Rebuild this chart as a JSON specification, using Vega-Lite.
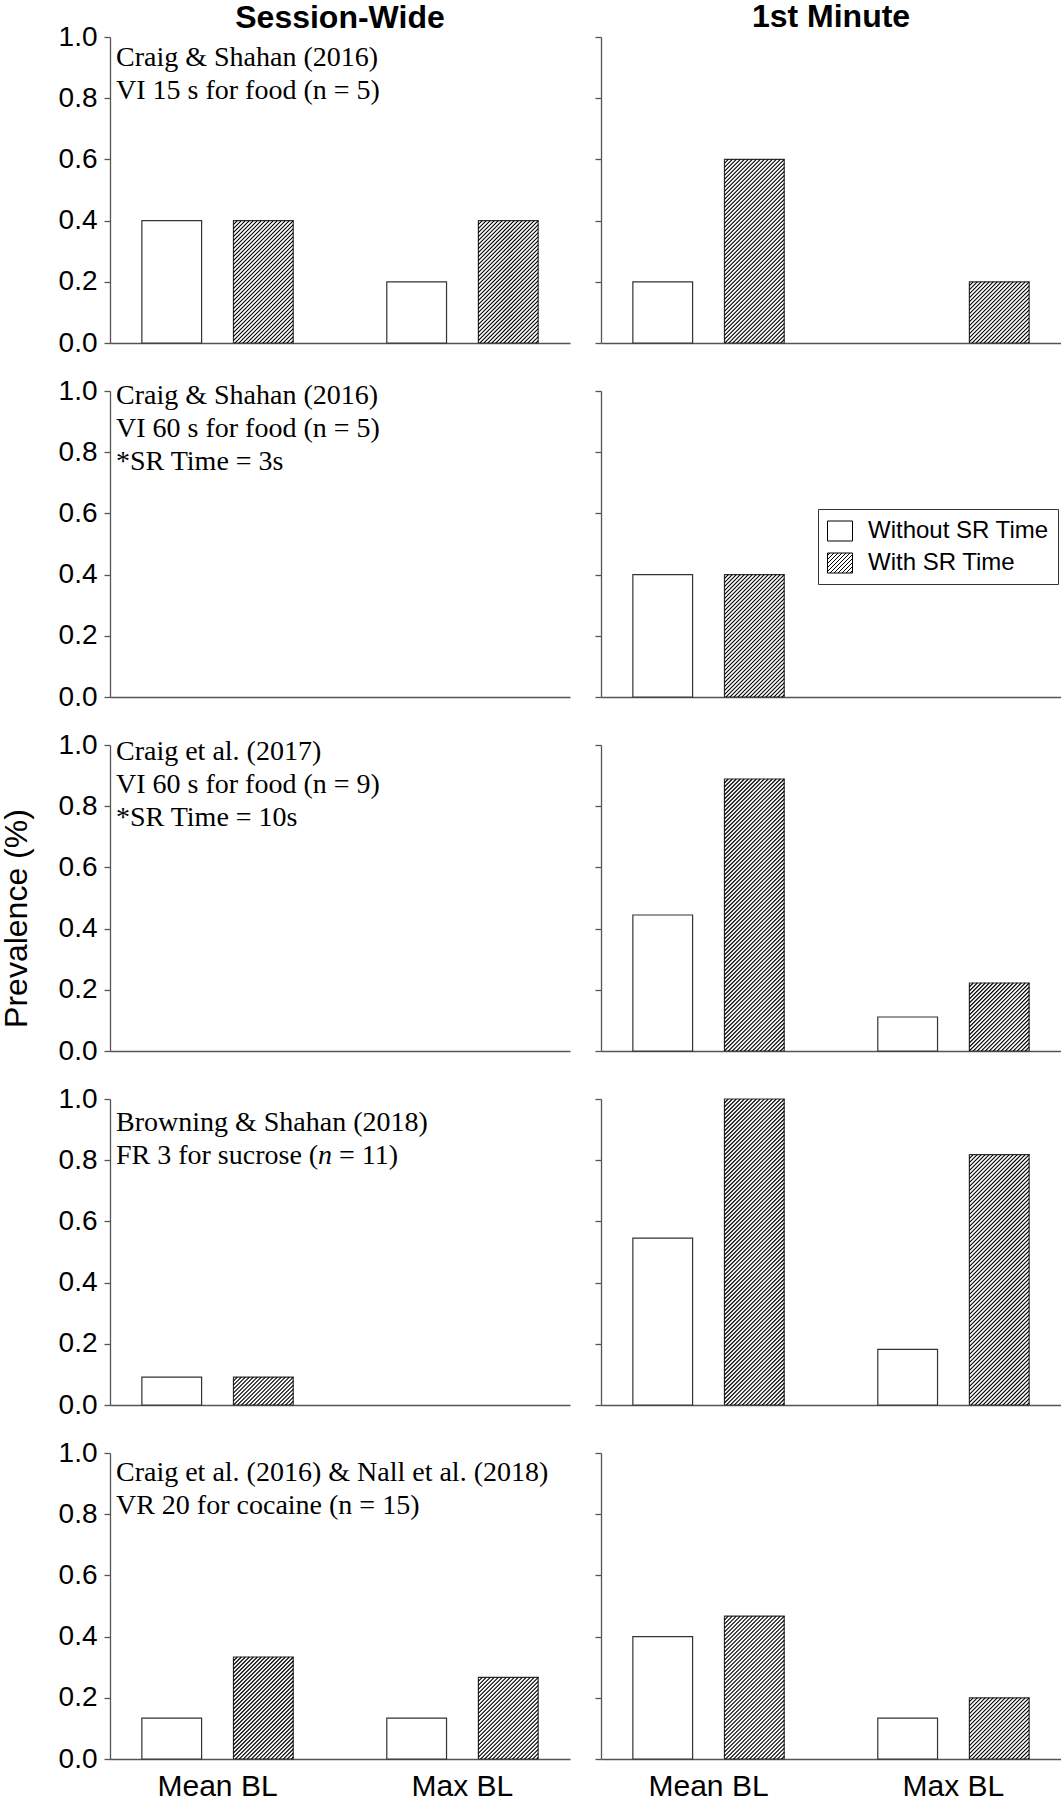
{
  "$schema": "https://vega.github.io/schema/vega-lite/v6.json",
  "padding": {"left": 0, "top": 1, "right": 0, "bottom": 0},
  "background": "white",
  "datasets": {
    "bars": [
      {"row": 1, "period": "Session-Wide", "bl": "Mean BL", "cond": "Without SR Time", "value": 0.4},
      {"row": 1, "period": "Session-Wide", "bl": "Mean BL", "cond": "With SR Time", "value": 0.4},
      {"row": 1, "period": "Session-Wide", "bl": "Max BL", "cond": "Without SR Time", "value": 0.2},
      {"row": 1, "period": "Session-Wide", "bl": "Max BL", "cond": "With SR Time", "value": 0.4},
      {"row": 1, "period": "1st Minute", "bl": "Mean BL", "cond": "Without SR Time", "value": 0.2},
      {"row": 1, "period": "1st Minute", "bl": "Mean BL", "cond": "With SR Time", "value": 0.6},
      {"row": 1, "period": "1st Minute", "bl": "Max BL", "cond": "Without SR Time", "value": 0},
      {"row": 1, "period": "1st Minute", "bl": "Max BL", "cond": "With SR Time", "value": 0.2},
      {"row": 2, "period": "Session-Wide", "bl": "Mean BL", "cond": "Without SR Time", "value": 0},
      {"row": 2, "period": "Session-Wide", "bl": "Mean BL", "cond": "With SR Time", "value": 0},
      {"row": 2, "period": "Session-Wide", "bl": "Max BL", "cond": "Without SR Time", "value": 0},
      {"row": 2, "period": "Session-Wide", "bl": "Max BL", "cond": "With SR Time", "value": 0},
      {"row": 2, "period": "1st Minute", "bl": "Mean BL", "cond": "Without SR Time", "value": 0.4},
      {"row": 2, "period": "1st Minute", "bl": "Mean BL", "cond": "With SR Time", "value": 0.4},
      {"row": 2, "period": "1st Minute", "bl": "Max BL", "cond": "Without SR Time", "value": 0},
      {"row": 2, "period": "1st Minute", "bl": "Max BL", "cond": "With SR Time", "value": 0},
      {"row": 3, "period": "Session-Wide", "bl": "Mean BL", "cond": "Without SR Time", "value": 0},
      {"row": 3, "period": "Session-Wide", "bl": "Mean BL", "cond": "With SR Time", "value": 0},
      {"row": 3, "period": "Session-Wide", "bl": "Max BL", "cond": "Without SR Time", "value": 0},
      {"row": 3, "period": "Session-Wide", "bl": "Max BL", "cond": "With SR Time", "value": 0},
      {"row": 3, "period": "1st Minute", "bl": "Mean BL", "cond": "Without SR Time", "value": 0.4444},
      {"row": 3, "period": "1st Minute", "bl": "Mean BL", "cond": "With SR Time", "value": 0.8889},
      {"row": 3, "period": "1st Minute", "bl": "Max BL", "cond": "Without SR Time", "value": 0.1111},
      {"row": 3, "period": "1st Minute", "bl": "Max BL", "cond": "With SR Time", "value": 0.2222},
      {"row": 4, "period": "Session-Wide", "bl": "Mean BL", "cond": "Without SR Time", "value": 0.0909},
      {"row": 4, "period": "Session-Wide", "bl": "Mean BL", "cond": "With SR Time", "value": 0.0909},
      {"row": 4, "period": "Session-Wide", "bl": "Max BL", "cond": "Without SR Time", "value": 0},
      {"row": 4, "period": "Session-Wide", "bl": "Max BL", "cond": "With SR Time", "value": 0},
      {"row": 4, "period": "1st Minute", "bl": "Mean BL", "cond": "Without SR Time", "value": 0.5455},
      {"row": 4, "period": "1st Minute", "bl": "Mean BL", "cond": "With SR Time", "value": 1.0},
      {"row": 4, "period": "1st Minute", "bl": "Max BL", "cond": "Without SR Time", "value": 0.1818},
      {"row": 4, "period": "1st Minute", "bl": "Max BL", "cond": "With SR Time", "value": 0.8182},
      {"row": 5, "period": "Session-Wide", "bl": "Mean BL", "cond": "Without SR Time", "value": 0.1333},
      {"row": 5, "period": "Session-Wide", "bl": "Mean BL", "cond": "With SR Time", "value": 0.3333},
      {"row": 5, "period": "Session-Wide", "bl": "Max BL", "cond": "Without SR Time", "value": 0.1333},
      {"row": 5, "period": "Session-Wide", "bl": "Max BL", "cond": "With SR Time", "value": 0.2667},
      {"row": 5, "period": "1st Minute", "bl": "Mean BL", "cond": "Without SR Time", "value": 0.4},
      {"row": 5, "period": "1st Minute", "bl": "Mean BL", "cond": "With SR Time", "value": 0.4667},
      {"row": 5, "period": "1st Minute", "bl": "Max BL", "cond": "Without SR Time", "value": 0.1333},
      {"row": 5, "period": "1st Minute", "bl": "Max BL", "cond": "With SR Time", "value": 0.2}
    ],
    "notes": [
      {"row": 1, "part": "main", "bl": "Mean BL", "text": "Craig & Shahan (2016)\nVI 15 s for food (n = 5)"},
      {"row": 2, "part": "main", "bl": "Mean BL", "text": "Craig & Shahan (2016)\nVI 60 s for food (n = 5)\n*SR Time = 3s"},
      {"row": 3, "part": "main", "bl": "Mean BL", "text": "Craig et al. (2017)\nVI 60 s for food (n = 9)\n*SR Time = 10s"},
      {"row": 4, "part": "main", "bl": "Mean BL", "text": "Browning & Shahan (2018)\nFR 3 for sucrose ("},
      {"row": 4, "part": "italic", "bl": "Mean BL", "text": "n"},
      {"row": 4, "part": "tail", "bl": "Mean BL", "text": "= 11)"},
      {"row": 5, "part": "main", "bl": "Mean BL", "text": "Craig et al. (2016) & Nall et al. (2018)\nVR 20 for cocaine (n = 15)"}
    ]
  },
  "columns": 2,
  "spacing": {"row": 48, "column": 31},
  "bounds": "flush",
  "resolve": {"scale": {"fill": "independent"}, "legend": {"fill": "independent"}},
  "concat": [
    {
      "width": 460, "height": 306,
      "title": {"text": "Session-Wide", "fontSize": 32, "fontWeight": "bold", "font": "Liberation Sans", "color": "black", "baseline": "alphabetic", "offset": -37},
      "data": {"name": "bars"},
      "encoding": {
        "x": {"field": "bl", "type": "nominal", "scale": {"domain": ["Mean BL", "Max BL"], "paddingInner": 0.1707, "paddingOuter": 0.0244}, "axis": {"labels": false, "ticks": false, "title": null}},
        "y": {"field": "value", "type": "quantitative", "scale": {"domain": [0, 1]}, "axis": {"title": null, "values": [0, 0.2, 0.4, 0.6, 0.8, 1], "format": ".1f"}}
      },
      "layer": [
        {"transform": [{"filter": "datum.row == 1 && datum.period == 'Session-Wide' && datum.value > 0"}], "mark": {"type": "bar", "fill": "white", "stroke": "#333", "strokeWidth": 1.2}, "encoding": {"xOffset": {"field": "cond", "type": "nominal", "scale": {"domain": ["Without SR Time", "With SR Time"], "paddingInner": 0.3478, "paddingOuter": 0.2826}}}},
        {"transform": [{"filter": "datum.row == 1 && datum.period == 'Session-Wide' && datum.value > 0 && datum.cond == 'With SR Time'"}], "mark": {"type": "point", "clip": true}, "encoding": {"xOffset": {"field": "cond", "type": "nominal"}}},
        {"data": {"name": "notes"}, "transform": [{"filter": "datum.row == 1"}], "mark": {"type": "text", "align": "left", "baseline": "alphabetic", "font": "Liberation Serif", "fontSize": 28, "lineHeight": 33, "lineBreak": "\n", "color": "black", "dy": 29}, "encoding": {"x": {"field": "bl", "type": "nominal", "bandPosition": 0}, "y": {"value": 0}, "text": {"field": "text", "type": "nominal"}}}
      ]
    },
    {
      "width": 460, "height": 306,
      "title": {"text": "1st Minute", "fontSize": 32, "fontWeight": "bold", "font": "Liberation Sans", "color": "black", "baseline": "alphabetic", "offset": -23},
      "data": {"name": "bars"},
      "encoding": {
        "x": {"field": "bl", "type": "nominal", "scale": {"domain": ["Mean BL", "Max BL"], "paddingInner": 0.1707, "paddingOuter": 0.0244}, "axis": {"labels": false, "ticks": false, "title": null}},
        "y": {"field": "value", "type": "quantitative", "scale": {"domain": [0, 1]}, "axis": {"title": null, "labels": false, "values": [0, 0.2, 0.4, 0.6, 0.8, 1]}}
      },
      "layer": [
        {"transform": [{"filter": "datum.row == 1 && datum.period == '1st Minute' && datum.value > 0"}], "mark": {"type": "bar", "fill": "white", "stroke": "#333", "strokeWidth": 1.2}, "encoding": {"xOffset": {"field": "cond", "type": "nominal", "scale": {"domain": ["Without SR Time", "With SR Time"], "paddingInner": 0.3478, "paddingOuter": 0.2826}}}},
        {"transform": [{"filter": "datum.row == 1 && datum.period == '1st Minute' && datum.value > 0 && datum.cond == 'With SR Time'"}], "mark": {"type": "point", "clip": true}, "encoding": {"xOffset": {"field": "cond", "type": "nominal"}}}
      ]
    },
    {
      "width": 460, "height": 306,
      "data": {"name": "bars"},
      "encoding": {
        "x": {"field": "bl", "type": "nominal", "scale": {"domain": ["Mean BL", "Max BL"], "paddingInner": 0.1707, "paddingOuter": 0.0244}, "axis": {"labels": false, "ticks": false, "title": null}},
        "y": {"field": "value", "type": "quantitative", "scale": {"domain": [0, 1]}, "axis": {"title": null, "values": [0, 0.2, 0.4, 0.6, 0.8, 1], "format": ".1f"}}
      },
      "layer": [
        {"transform": [{"filter": "datum.row == 2 && datum.period == 'Session-Wide' && datum.value > 0"}], "mark": {"type": "bar", "fill": "white", "stroke": "#333", "strokeWidth": 1.2}, "encoding": {"xOffset": {"field": "cond", "type": "nominal", "scale": {"domain": ["Without SR Time", "With SR Time"], "paddingInner": 0.3478, "paddingOuter": 0.2826}}}},
        {"data": {"name": "notes"}, "transform": [{"filter": "datum.row == 2"}], "mark": {"type": "text", "align": "left", "baseline": "alphabetic", "font": "Liberation Serif", "fontSize": 28, "lineHeight": 33, "lineBreak": "\n", "color": "black", "dy": 12.5}, "encoding": {"x": {"field": "bl", "type": "nominal", "bandPosition": 0}, "y": {"value": 0}, "text": {"field": "text", "type": "nominal"}}}
      ]
    },
    {
      "width": 460, "height": 306,
      "data": {"name": "bars"},
      "encoding": {
        "x": {"field": "bl", "type": "nominal", "scale": {"domain": ["Mean BL", "Max BL"], "paddingInner": 0.1707, "paddingOuter": 0.0244}, "axis": {"labels": false, "ticks": false, "title": null}},
        "y": {"field": "value", "type": "quantitative", "scale": {"domain": [0, 1]}, "axis": {"title": null, "labels": false, "values": [0, 0.2, 0.4, 0.6, 0.8, 1]}}
      },
      "layer": [
        {"transform": [{"filter": "datum.row == 2 && datum.period == '1st Minute' && datum.value > 0"}], "mark": {"type": "bar", "stroke": "#333", "strokeWidth": 1.2},
         "encoding": {
           "xOffset": {"field": "cond", "type": "nominal", "scale": {"domain": ["Without SR Time", "With SR Time"], "paddingInner": 0.3478, "paddingOuter": 0.2826}},
           "fill": {"field": "cond", "type": "nominal", "scale": {"domain": ["Without SR Time", "With SR Time"], "range": ["white", "white"]},
             "legend": {"title": null, "orient": "none", "legendX": 217, "legendY": 118, "direction": "vertical",
               "symbolType": "M-1,-0.8H1V0.8H-1Z", "symbolSize": 625, "symbolStrokeColor": "black", "symbolStrokeWidth": 1,
               "labelFont": "Liberation Sans", "labelFontSize": 24, "labelColor": "black", "labelOffset": 15, "labelLimit": 400, "rowPadding": 7,
               "padding": 9, "strokeColor": "#333", "fillColor": "white", "cornerRadius": 0,
               "encode": {"symbols": {"update": {
                 "shape": [{"test": "datum.value === 'With SR Time'", "value": "M-1,-0.8H1V0.8H-1ZM-1,-0.6L-0.8,-0.8M-1,-0.28L-0.48,-0.8M-1,0.04L-0.16,-0.8M-1,0.36L0.16,-0.8M-1,0.68L0.48,-0.8M-0.8,0.8L0.8,-0.8M-0.48,0.8L1,-0.68M-0.16,0.8L1,-0.36M0.16,0.8L1,-0.04M0.48,0.8L1,0.28M0.8,0.8L1,0.6"}, {"value": "M-1,-0.8H1V0.8H-1Z"}],
                 "fill": {"value": "white"}, "stroke": {"value": "black"}, "strokeWidth": {"value": 1}, "opacity": {"value": 1}}}}
             }
           }
         }
        },
        {"transform": [{"filter": "datum.row == 2 && datum.period == '1st Minute' && datum.value > 0 && datum.cond == 'With SR Time'"}], "mark": {"type": "point", "clip": true}, "encoding": {"xOffset": {"field": "cond", "type": "nominal"}}}
      ]
    },
    {
      "width": 460, "height": 306,
      "data": {"name": "bars"},
      "encoding": {
        "x": {"field": "bl", "type": "nominal", "scale": {"domain": ["Mean BL", "Max BL"], "paddingInner": 0.1707, "paddingOuter": 0.0244}, "axis": {"labels": false, "ticks": false, "title": null}},
        "y": {"field": "value", "type": "quantitative", "scale": {"domain": [0, 1]}, "axis": {"title": "Prevalence (%)", "titleY": 173, "titlePadding": 25, "values": [0, 0.2, 0.4, 0.6, 0.8, 1], "format": ".1f"}}
      },
      "layer": [
        {"transform": [{"filter": "datum.row == 3 && datum.period == 'Session-Wide' && datum.value > 0"}], "mark": {"type": "bar", "fill": "white", "stroke": "#333", "strokeWidth": 1.2}, "encoding": {"xOffset": {"field": "cond", "type": "nominal", "scale": {"domain": ["Without SR Time", "With SR Time"], "paddingInner": 0.3478, "paddingOuter": 0.2826}}}},
        {"data": {"name": "notes"}, "transform": [{"filter": "datum.row == 3"}], "mark": {"type": "text", "align": "left", "baseline": "alphabetic", "font": "Liberation Serif", "fontSize": 28, "lineHeight": 33, "lineBreak": "\n", "color": "black", "dy": 14.5}, "encoding": {"x": {"field": "bl", "type": "nominal", "bandPosition": 0}, "y": {"value": 0}, "text": {"field": "text", "type": "nominal"}}}
      ]
    },
    {
      "width": 460, "height": 306,
      "data": {"name": "bars"},
      "encoding": {
        "x": {"field": "bl", "type": "nominal", "scale": {"domain": ["Mean BL", "Max BL"], "paddingInner": 0.1707, "paddingOuter": 0.0244}, "axis": {"labels": false, "ticks": false, "title": null}},
        "y": {"field": "value", "type": "quantitative", "scale": {"domain": [0, 1]}, "axis": {"title": null, "labels": false, "values": [0, 0.2, 0.4, 0.6, 0.8, 1]}}
      },
      "layer": [
        {"transform": [{"filter": "datum.row == 3 && datum.period == '1st Minute' && datum.value > 0"}], "mark": {"type": "bar", "fill": "white", "stroke": "#333", "strokeWidth": 1.2}, "encoding": {"xOffset": {"field": "cond", "type": "nominal", "scale": {"domain": ["Without SR Time", "With SR Time"], "paddingInner": 0.3478, "paddingOuter": 0.2826}}}},
        {"transform": [{"filter": "datum.row == 3 && datum.period == '1st Minute' && datum.value > 0 && datum.cond == 'With SR Time'"}], "mark": {"type": "point", "clip": true}, "encoding": {"xOffset": {"field": "cond", "type": "nominal"}}}
      ]
    },
    {
      "width": 460, "height": 306,
      "data": {"name": "bars"},
      "encoding": {
        "x": {"field": "bl", "type": "nominal", "scale": {"domain": ["Mean BL", "Max BL"], "paddingInner": 0.1707, "paddingOuter": 0.0244}, "axis": {"labels": false, "ticks": false, "title": null}},
        "y": {"field": "value", "type": "quantitative", "scale": {"domain": [0, 1]}, "axis": {"title": null, "values": [0, 0.2, 0.4, 0.6, 0.8, 1], "format": ".1f"}}
      },
      "layer": [
        {"transform": [{"filter": "datum.row == 4 && datum.period == 'Session-Wide' && datum.value > 0"}], "mark": {"type": "bar", "fill": "white", "stroke": "#333", "strokeWidth": 1.2}, "encoding": {"xOffset": {"field": "cond", "type": "nominal", "scale": {"domain": ["Without SR Time", "With SR Time"], "paddingInner": 0.3478, "paddingOuter": 0.2826}}}},
        {"transform": [{"filter": "datum.row == 4 && datum.period == 'Session-Wide' && datum.value > 0 && datum.cond == 'With SR Time'"}], "mark": {"type": "point", "clip": true}, "encoding": {"xOffset": {"field": "cond", "type": "nominal"}}},
        {"data": {"name": "notes"}, "transform": [{"filter": "datum.row == 4 && datum.part == 'main'"}], "mark": {"type": "text", "align": "left", "baseline": "alphabetic", "font": "Liberation Serif", "fontSize": 28, "lineHeight": 33, "lineBreak": "\n", "color": "black", "dy": 32}, "encoding": {"x": {"field": "bl", "type": "nominal", "bandPosition": 0}, "y": {"value": 0}, "text": {"field": "text", "type": "nominal"}}},
        {"data": {"name": "notes"}, "transform": [{"filter": "datum.row == 4 && datum.part == 'italic'"}], "mark": {"type": "text", "align": "left", "baseline": "alphabetic", "font": "Liberation Serif", "fontSize": 28, "fontStyle": "italic", "color": "black", "dx": 202, "dy": 65}, "encoding": {"x": {"field": "bl", "type": "nominal", "bandPosition": 0}, "y": {"value": 0}, "text": {"field": "text", "type": "nominal"}}},
        {"data": {"name": "notes"}, "transform": [{"filter": "datum.row == 4 && datum.part == 'tail'"}], "mark": {"type": "text", "align": "left", "baseline": "alphabetic", "font": "Liberation Serif", "fontSize": 28, "color": "black", "dx": 223, "dy": 65}, "encoding": {"x": {"field": "bl", "type": "nominal", "bandPosition": 0}, "y": {"value": 0}, "text": {"field": "text", "type": "nominal"}}}
      ]
    },
    {
      "width": 460, "height": 306,
      "data": {"name": "bars"},
      "encoding": {
        "x": {"field": "bl", "type": "nominal", "scale": {"domain": ["Mean BL", "Max BL"], "paddingInner": 0.1707, "paddingOuter": 0.0244}, "axis": {"labels": false, "ticks": false, "title": null}},
        "y": {"field": "value", "type": "quantitative", "scale": {"domain": [0, 1]}, "axis": {"title": null, "labels": false, "values": [0, 0.2, 0.4, 0.6, 0.8, 1]}}
      },
      "layer": [
        {"transform": [{"filter": "datum.row == 4 && datum.period == '1st Minute' && datum.value > 0"}], "mark": {"type": "bar", "fill": "white", "stroke": "#333", "strokeWidth": 1.2}, "encoding": {"xOffset": {"field": "cond", "type": "nominal", "scale": {"domain": ["Without SR Time", "With SR Time"], "paddingInner": 0.3478, "paddingOuter": 0.2826}}}},
        {"transform": [{"filter": "datum.row == 4 && datum.period == '1st Minute' && datum.value > 0 && datum.cond == 'With SR Time'"}], "mark": {"type": "point", "clip": true}, "encoding": {"xOffset": {"field": "cond", "type": "nominal"}}}
      ]
    },
    {
      "width": 460, "height": 306,
      "data": {"name": "bars"},
      "encoding": {
        "x": {"field": "bl", "type": "nominal", "scale": {"domain": ["Mean BL", "Max BL"], "paddingInner": 0.1707, "paddingOuter": 0.0244}, "axis": {"ticks": false, "title": null}},
        "y": {"field": "value", "type": "quantitative", "scale": {"domain": [0, 1]}, "axis": {"title": null, "values": [0, 0.2, 0.4, 0.6, 0.8, 1], "format": ".1f"}}
      },
      "layer": [
        {"transform": [{"filter": "datum.row == 5 && datum.period == 'Session-Wide' && datum.value > 0"}], "mark": {"type": "bar", "fill": "white", "stroke": "#333", "strokeWidth": 1.2}, "encoding": {"xOffset": {"field": "cond", "type": "nominal", "scale": {"domain": ["Without SR Time", "With SR Time"], "paddingInner": 0.3478, "paddingOuter": 0.2826}}}},
        {"transform": [{"filter": "datum.row == 5 && datum.period == 'Session-Wide' && datum.value > 0 && datum.cond == 'With SR Time'"}], "mark": {"type": "point", "clip": true}, "encoding": {"xOffset": {"field": "cond", "type": "nominal"}}},
        {"data": {"name": "notes"}, "transform": [{"filter": "datum.row == 5"}], "mark": {"type": "text", "align": "left", "baseline": "alphabetic", "font": "Liberation Serif", "fontSize": 28, "lineHeight": 33, "lineBreak": "\n", "color": "black", "dy": 27.5}, "encoding": {"x": {"field": "bl", "type": "nominal", "bandPosition": 0}, "y": {"value": 0}, "text": {"field": "text", "type": "nominal"}}}
      ]
    },
    {
      "width": 460, "height": 306,
      "data": {"name": "bars"},
      "encoding": {
        "x": {"field": "bl", "type": "nominal", "scale": {"domain": ["Mean BL", "Max BL"], "paddingInner": 0.1707, "paddingOuter": 0.0244}, "axis": {"ticks": false, "title": null}},
        "y": {"field": "value", "type": "quantitative", "scale": {"domain": [0, 1]}, "axis": {"title": null, "labels": false, "values": [0, 0.2, 0.4, 0.6, 0.8, 1]}}
      },
      "layer": [
        {"transform": [{"filter": "datum.row == 5 && datum.period == '1st Minute' && datum.value > 0"}], "mark": {"type": "bar", "fill": "white", "stroke": "#333", "strokeWidth": 1.2}, "encoding": {"xOffset": {"field": "cond", "type": "nominal", "scale": {"domain": ["Without SR Time", "With SR Time"], "paddingInner": 0.3478, "paddingOuter": 0.2826}}}},
        {"transform": [{"filter": "datum.row == 5 && datum.period == '1st Minute' && datum.value > 0 && datum.cond == 'With SR Time'"}], "mark": {"type": "point", "clip": true}, "encoding": {"xOffset": {"field": "cond", "type": "nominal"}}}
      ]
    }
  ],
  "config": {
    "view": {"stroke": null},
    "font": "Liberation Sans",
    "axis": {"domainColor": "#555", "domainWidth": 1.3, "tickColor": "#555", "tickWidth": 1.3, "labelColor": "black", "labelFont": "Liberation Sans", "titleFont": "Liberation Sans", "titleColor": "black", "titleFontWeight": "normal", "grid": false},
    "axisY": {"labelFontSize": 28, "tickSize": 6, "labelPadding": 7, "titleFontSize": 32, "titlePadding": 22},
    "axisX": {"labelFontSize": 30, "labelPadding": 12, "ticks": false, "labelAngle": 0},
    "point": {"shape": "M-30,4l4,-4M-30,8l8,-8M-30,12l12,-12M-30,16l16,-16M-30,20l20,-20M-30,24l24,-24M-30,28l28,-28M-30,32l32,-32M-30,36l36,-36M-30,40l40,-40M-30,44l44,-44M-30,48l48,-48M-30,52l52,-52M-30,56l56,-56M-30,60l60,-60M-30,64l60,-60M-30,68l60,-60M-30,72l60,-60M-30,76l60,-60M-30,80l60,-60M-30,84l60,-60M-30,88l60,-60M-30,92l60,-60M-30,96l60,-60M-30,100l60,-60M-30,104l60,-60M-30,108l60,-60M-30,112l60,-60M-30,116l60,-60M-30,120l60,-60M-30,124l60,-60M-30,128l60,-60M-30,132l60,-60M-30,136l60,-60M-30,140l60,-60M-30,144l60,-60M-30,148l60,-60M-30,152l60,-60M-30,156l60,-60M-30,160l60,-60M-30,164l60,-60M-30,168l60,-60M-30,172l60,-60M-30,176l60,-60M-30,180l60,-60M-30,184l60,-60M-30,188l60,-60M-30,192l60,-60M-30,196l60,-60M-30,200l60,-60M-30,204l60,-60M-30,208l60,-60M-30,212l60,-60M-30,216l60,-60M-30,220l60,-60M-30,224l60,-60M-30,228l60,-60M-30,232l60,-60M-30,236l60,-60M-30,240l60,-60M-30,244l60,-60M-30,248l60,-60M-30,252l60,-60M-30,256l60,-60M-30,260l60,-60M-30,264l60,-60M-30,268l60,-60M-30,272l60,-60M-30,276l60,-60M-30,280l60,-60M-30,284l60,-60M-30,288l60,-60M-30,292l60,-60M-30,296l60,-60M-30,300l60,-60M-30,304l60,-60M-30,308l60,-60M-30,312l60,-60M-30,316l60,-60M-30,320l60,-60M-30,324l60,-60M-30,328l60,-60M-30,332l60,-60M-30,336l60,-60M-30,340l60,-60M-30,344l60,-60M-30,348l60,-60M-30,352l60,-60M-30,356l60,-60M-30,360l60,-60M-30,364l60,-60M-30,368l60,-60", "size": 4, "filled": false, "stroke": "black", "color": "black", "strokeWidth": 1.1, "opacity": 1}
  }
}
